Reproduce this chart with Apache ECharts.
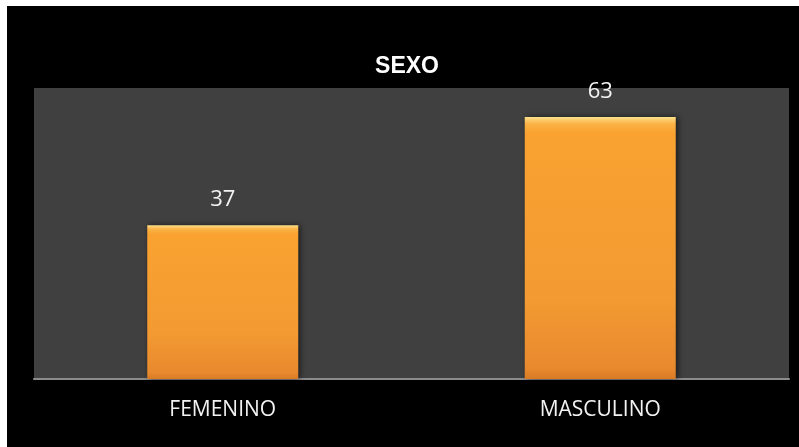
<!DOCTYPE html>
<html>
<head>
<meta charset="utf-8">
<script src="https://cdn.jsdelivr.net/npm/echarts@6/dist/echarts.min.js"></script>
<style>
html, body { margin: 0; padding: 0; background: #fff; }
#main { position: absolute; left: 7px; top: 6px; width: 792px; height: 441px; background: #000; }
</style>
</head>
<body>
<div id="main"></div>
<script>
// datos del gráfico
var categorias = ['FEMENINO', 'MASCULINO'];
var valores = [37, 63];
var titulo = 'SEXO';

var myChart = echarts.init(document.getElementById('main'));

var option = {
	backgroundColor: '#000',
	animation: false,
	title: {
		text: titulo,
		left: 395,
		top: 44,
		textAlign: 'center',
		textStyle: {
			color: '#fff',
			fontFamily: 'Liberation Sans',
			fontWeight: 'bold',
			fontSize: 23
		}
	},
	grid: {
		left: 27,
		right: 10,
		top: 82,
		bottom: 68,
		show: true,
		backgroundColor: '#404040',
		borderWidth: 0
	},
	xAxis: {
		type: 'category',
		data: categorias,
		axisLine: { lineStyle: { color: '#8c8c8c', width: 2 } },
		axisTick: { show: false },
		axisLabel: {
			color: '#f2f2f2',
			fontFamily: 'Open Sans',
			fontSize: 21,
			margin: 21
		}
	},
	yAxis: {
		type: 'value',
		min: 0,
		max: 70,
		show: false,
		splitLine: { show: false }
	},
	series: [{
		type: 'bar',
		data: valores,
		barWidth: '40%',
		itemStyle: {
			color: {
				type: 'linear', x: 0, y: 0, x2: 0, y2: 1,
				colorStops: [
					{ offset: 0, color: '#fde08a' },
					{ offset: 0.025, color: '#fbb347' },
					{ offset: 0.06, color: '#f9a230' },
					{ offset: 0.7, color: '#f39a32' },
					{ offset: 0.96, color: '#e8892e' },
					{ offset: 1, color: '#d97a26' }
				]
			},
			shadowColor: 'rgba(0,0,0,0.6)',
			shadowBlur: 6,
			shadowOffsetX: 2
		},
		label: {
			show: true,
			position: 'top',
			distance: 14,
			color: '#f2f2f2',
			fontFamily: 'Open Sans',
			fontSize: 22
		}
	}]
};

myChart.setOption(option);
</script>
</body>
</html>
